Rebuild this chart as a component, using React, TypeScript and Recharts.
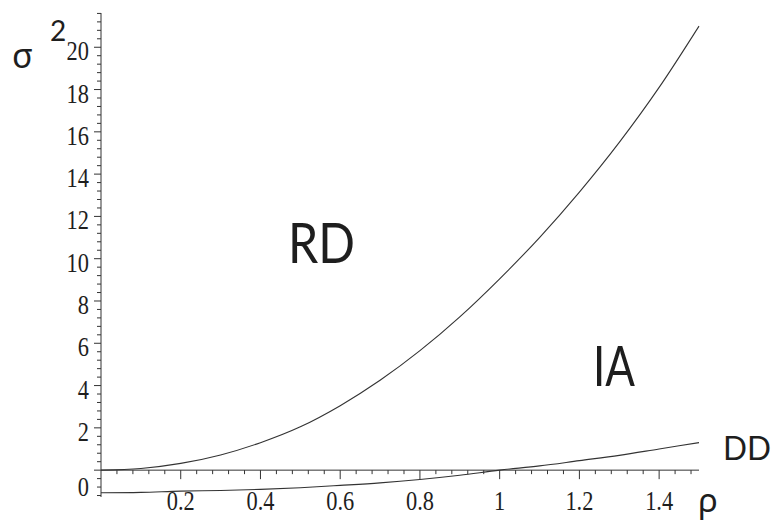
import { ComposedChart, Line, Scatter, XAxis, YAxis, ReferenceLine } from 'recharts';

const rho = [0, 0.1, 0.2, 0.3, 0.4, 0.5, 0.6, 0.7, 0.8, 0.9, 1.0, 1.1, 1.2, 1.3, 1.4, 1.5];
// upper boundary (RD / IA)
const rdBoundary = [0, 0.08, 0.32, 0.72, 1.3, 2.05, 3.05, 4.25, 5.65, 7.25, 9.05, 11.0, 13.15, 15.5, 18.1, 21.0];
// lower boundary (IA / DD)
const ddBoundary = [-1.07, -1.05, -0.99, -0.96, -0.91, -0.83, -0.72, -0.6, -0.44, -0.24, 0, 0.2, 0.45, 0.7, 1.0, 1.3];

const xMajorTicks = [0.2, 0.4, 0.6, 0.8, 1, 1.2, 1.4];
const xTickLabels = ['0.2', '0.4', '0.6', '0.8', '1', '1.2', '1.4'];
const yMajorTicks = [0, 2, 4, 6, 8, 10, 12, 14, 16, 18, 20];
const yTickLabels = ['0', '2', '4', '6', '8', '10', '12', '14', '16', '18', '20'];

const ink = '#1e1e1e';
const lineColor = '#333';

const chartData = rho.map((r, i) => ({ rho: r, rd: rdBoundary[i], dd: ddBoundary[i] }));

// minor ticks every 0.04 on x, 0.4 on y
const xTickRows: { rho: number; zero: number; label: string | null }[] = [];
for (let i = 1; i <= 37; i++) {
  const v = +(i * 0.04).toFixed(2);
  const k = xMajorTicks.findIndex((m) => Math.abs(m - v) < 1e-6);
  xTickRows.push({ rho: v, zero: 0, label: k >= 0 ? xTickLabels[k] : null });
}
const yTicks: number[] = [];
for (let i = -3; i <= 54; i++) yTicks.push(+(i * 0.4).toFixed(1));

const numFont = "'Liberation Serif', serif";
const sansFont = "Lato, 'Noto Sans', sans-serif";
const greekFont = "'Noto Sans', 'DejaVu Sans', sans-serif";

function YTick(props: any) {
  const { x, y, payload } = props;
  const v = payload.value;
  const k = yMajorTicks.findIndex((m) => Math.abs(m - v) < 1e-6);
  const major = k >= 0;
  return (
    <g>
      <line x1={x - (major ? 7 : 4)} x2={x} y1={y} y2={y} stroke={lineColor} strokeWidth={1} />
      {major && (
        <text
          transform={`translate(${x - 12},${y + (v === 0 ? 26 : 13)}) scale(0.8,1)`}
          textAnchor="end"
          fontFamily={numFont}
          fontSize={28}
          fill={ink}
        >
          {yTickLabels[k]}
        </text>
      )}
    </g>
  );
}

function XTick(props: any) {
  const { cx, cy, payload } = props;
  const major = payload.label != null;
  return (
    <g>
      <line x1={cx} x2={cx} y1={cy} y2={cy + (major ? 9 : 4)} stroke={lineColor} strokeWidth={1} />
      {major && (
        <text
          transform={`translate(${cx},${cy + 40}) scale(0.8,1)`}
          textAnchor="middle"
          fontFamily={numFont}
          fontSize={28}
          fill={ink}
        >
          {payload.label}
        </text>
      )}
    </g>
  );
}

export default function App() {
  return (
    <div style={{ position: 'absolute', left: 0, top: 0, width: 776, height: 523, background: '#fff' }}>
      <ComposedChart
        width={776}
        height={523}
        data={chartData}
        margin={{ top: 13, right: 77, bottom: 26, left: 0 }}
      >
        <XAxis dataKey="rho" type="number" domain={[0, 1.5]} hide />
        <YAxis
          type="number"
          domain={[-1.27, 21.62]}
          width={101}
          ticks={yTicks}
          interval={0}
          tickSize={0}
          tickMargin={0}
          tickLine={false}
          axisLine={{ stroke: lineColor, strokeWidth: 1 }}
          tick={<YTick />}
        />
        <ReferenceLine y={0} stroke={lineColor} strokeWidth={1} />
        <Line
          type="monotone"
          dataKey="rd"
          stroke={lineColor}
          strokeWidth={1.1}
          dot={false}
          isAnimationActive={false}
        />
        <Line
          type="monotone"
          dataKey="dd"
          stroke={lineColor}
          strokeWidth={1.1}
          dot={false}
          isAnimationActive={false}
        />
        <Scatter data={xTickRows} dataKey="zero" shape={<XTick />} isAnimationActive={false} />
      </ComposedChart>
      <svg
        width={776}
        height={523}
        style={{ position: 'absolute', left: 0, top: 0, pointerEvents: 'none' }}
      >
        <text x={12} y={68} style={{ fontFamily: greekFont, fontSize: 34 }} fill={ink}>σ</text>
        <text x={50} y={41} style={{ fontFamily: sansFont, fontSize: 28 }} fill={ink}>2</text>
        <text x={698} y={512} style={{ fontFamily: greekFont, fontSize: 33 }} fill={ink}>ρ</text>
        <text x={288} y={263} style={{ fontFamily: sansFont, fontSize: 56 }} fill={ink} textLength={67} lengthAdjust="spacingAndGlyphs">RD</text>
        <text x={593} y={386} style={{ fontFamily: sansFont, fontSize: 56 }} fill={ink} textLength={42} lengthAdjust="spacingAndGlyphs">IA</text>
        <text x={723} y={460} style={{ fontFamily: sansFont, fontSize: 33 }} fill={ink} textLength={48} lengthAdjust="spacingAndGlyphs">DD</text>
      </svg>
    </div>
  );
}
